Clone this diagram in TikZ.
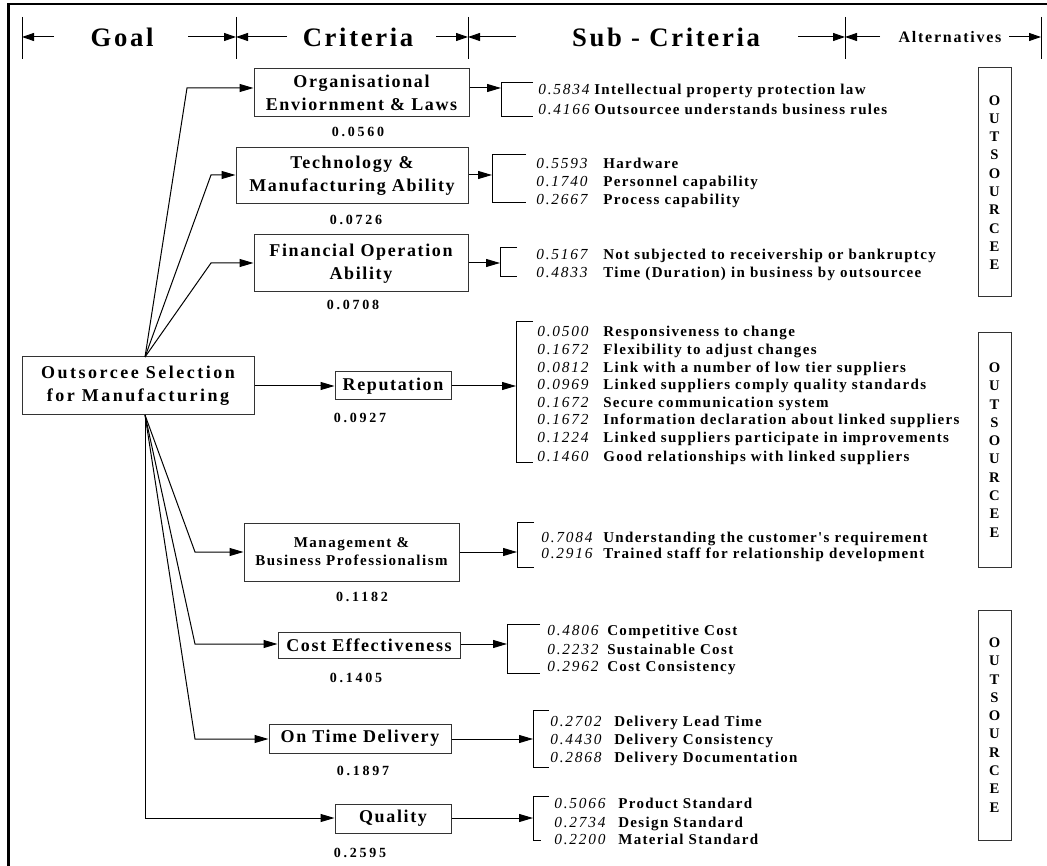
\documentclass[tikz,border=0pt]{standalone}
\usepackage{fontspec}
\setmainfont{Liberation Serif}
\newfontfamily\fHdr[LetterSpace=10]{Liberation Serif}
\newfontfamily\fAlt[LetterSpace=11]{Liberation Serif}
\newfontfamily\fCrit[LetterSpace=9]{Liberation Serif}
\newfontfamily\fGoal[LetterSpace=14]{Liberation Serif}
\newfontfamily\fMg[LetterSpace=10]{Liberation Serif}
\newfontfamily\fWt[LetterSpace=20]{Liberation Serif}
\newfontfamily\fNum[LetterSpace=12]{Liberation Serif}
\newfontfamily\fLab[LetterSpace=9]{Liberation Serif}
\usetikzlibrary{arrows.meta}
\tikzset{
  plain/.style={line width=0.75pt},
  conn/.style={line width=0.75pt,-{Triangle[length=10.5pt,width=6pt]}},
  harr/.style={line width=0.75pt,-{Triangle[length=9pt,width=6pt]}},
  hdr/.style={inner sep=0pt,font=\fHdr\bfseries\fontsize{20}{24}\selectfont},
  alt/.style={inner sep=0pt,font=\fAlt\bfseries\fontsize{12}{14}\selectfont},
  cbox/.style={draw=black!80,line width=0.75pt,inner sep=0pt,align=center,font=\fCrit\bfseries\fontsize{13.5}{17.25}\selectfont},
  gbox/.style={draw=black!80,line width=0.75pt,inner sep=0pt,align=center,font=\fGoal\bfseries\fontsize{13.5}{17.25}\selectfont},
  mbox/.style={draw=black!80,line width=0.75pt,inner sep=0pt,align=center,font=\fMg\bfseries\fontsize{11.25}{13.5}\selectfont},
  wt/.style={inner sep=0pt,font=\fWt\bfseries\fontsize{10.5}{12}\selectfont},
  snum/.style={inner sep=0pt,anchor=base west,font=\fNum\itshape\fontsize{11.5}{13}\selectfont},
  slab/.style={inner sep=0pt,anchor=base west,font=\fLab\bfseries\fontsize{11.25}{13}\selectfont},
  obox/.style={draw=black!80,line width=0.75pt,inner sep=0pt,minimum width=24.75pt,align=center,font=\bfseries\fontsize{11}{13.7}\selectfont}
}
\newcommand\srow[6]{%
  \node[snum] (#1n) at (#3,#2+5) {#5};
  \node[slab] (#1l) at (#4,#2+5) {#6};}
\begin{document}
\begin{tikzpicture}[x=0.75pt,y=-0.75pt]
\useasboundingbox (0,0) rectangle (1047,866);
% frame
\draw[line width=2.25pt] (8,866) -- (8,3);
\draw[line width=1.5pt] (7,4) -- (1047,4);
% header
\foreach \x in {22,236,468,845,1041} \draw[plain] (\x,17) -- (\x,59);
\node[hdr] (hGoal) at (122,37) {Goal};
\node[hdr] (hCrit) at (358,37) {Criteria};
\node[hdr] (hSub) at (666,37) {Sub - Criteria};
\node[alt] (hAlt) at (950,37) {Alternatives};
\coordinate (t1) at (22,37); \coordinate (t2) at (236,37); \coordinate (t3) at (468,37);
\coordinate (t4) at (845,37); \coordinate (t5) at (1041,37);
\draw[harr] (54,37) -- (t1);
\draw[harr] (188,37) -- (t2);
\draw[harr] (287,37) -- (t2);
\draw[harr] (436,37) -- (t3);
\draw[harr] (516,37) -- (t3);
\draw[harr] (798,37) -- (t4);
\draw[harr] (880,37) -- (t4);
\draw[harr] (1009,37) -- (t5);
% goal
\node[gbox,minimum width=174pt,minimum height=43.5pt] (goal) at (138,386) {Outsorcee Selection\\for Manufacturing};
% criteria
\node[cbox,minimum width=161.25pt,minimum height=36pt] (org) at (361.5,93) {Organisational\\Enviornment \& Laws};
\node[cbox,minimum width=174pt,minimum height=42pt] (tech) at (352,176) {Technology \&\\Manufacturing Ability};
\node[cbox,minimum width=160.5pt,minimum height=42.75pt] (fin) at (361,263.5) {Financial Operation\\Ability};
\node[cbox,minimum width=87pt,minimum height=21pt] (rep) at (393,386) {Reputation};
\node[mbox,minimum width=161.25pt,minimum height=43.5pt] (mgmt) at (351.5,552) {Management \&\\Business Professionalism};
\node[cbox,minimum width=136.5pt,minimum height=19.5pt] (cost) at (369,645) {Cost Effectiveness};
\node[cbox,minimum width=136.5pt,minimum height=21.75pt] (otd) at (360,738.5) {On Time Delivery};
\node[cbox,minimum width=87pt,minimum height=21.75pt] (qual) at (393,818.5) {Quality};
% weights
\node[wt] (w1) at (358,132) {0.0560};
\node[wt] (w2) at (356,220) {0.0726};
\node[wt] (w3) at (353,305) {0.0708};
\node[wt] (w4) at (360,418) {0.0927};
\node[wt] (w5) at (362,597) {0.1182};
\node[wt] (w6) at (356,678) {0.1405};
\node[wt] (w7) at (363,771) {0.1897};
\node[wt] (w8) at (360,853) {0.2595};
% goal -> criteria
\coordinate (gT) at (145,357); \coordinate (gB) at (145,415);
\coordinate (bo) at (187,88); \coordinate (bt) at (211,175); \coordinate (bf) at (211,263);
\coordinate (bm) at (195,552); \coordinate (bc) at (195,644); \coordinate (bd) at (195,739);
\coordinate (bq) at (145,818);
\draw[conn] (gT) -- (bo) -- (bo -| org.west);
\draw[conn] (gT) -- (bt) -- (bt -| tech.west);
\draw[conn] (gT) -- (bf) -- (bf -| fin.west);
\draw[conn] (goal.east |- rep.west) -- (rep.west);
\draw[conn] (gB) -- (bm) -- (bm -| mgmt.west);
\draw[conn] (gB) -- (bc) -- (bc -| cost.west);
\draw[conn] (gB) -- (bd) -- (bd -| otd.west);
\draw[conn] (gB) -- (bq) -- (bq -| qual.west);
% criteria -> brackets
\coordinate (pO) at (501,88); \coordinate (pT) at (492,175); \coordinate (pF) at (500,263);
\coordinate (pR) at (516,386); \coordinate (pM) at (517,552); \coordinate (pC) at (507,644);
\coordinate (pD) at (533,739); \coordinate (pQ) at (533,818);
\draw[conn] (org.east |- pO) -- (pO);
\draw[conn] (tech.east |- pT) -- (pT);
\draw[conn] (fin.east |- pF) -- (pF);
\draw[conn] (rep.east |- pR) -- (pR);
\draw[conn] (mgmt.east |- pM) -- (pM);
\draw[conn] (cost.east |- pC) -- (pC);
\draw[conn] (otd.east |- pD) -- (pD);
\draw[conn] (qual.east |- pQ) -- (pQ);
% brackets
\draw[plain] (533,83) -- (501,83) -- (501,117) -- (533,117);
\draw[plain] (526,155) -- (492,155) -- (492,203) -- (526,203);
\draw[plain] (517,248) -- (500,248) -- (500,277) -- (517,277);
\draw[plain] (533,322) -- (516,322) -- (516,463) -- (533,463);
\draw[plain] (534,522) -- (517,522) -- (517,567) -- (534,567);
\draw[plain] (540,624) -- (507,624) -- (507,673) -- (540,673);
\draw[plain] (549,710) -- (533,710) -- (533,767) -- (549,767);
\draw[plain] (549,796) -- (533,796) -- (533,840) -- (541,840);
% sub-criteria
\srow{o1}{90}{538}{594}{0.5834}{Intellectual property protection law}
\srow{o2}{110}{538}{594}{0.4166}{Outsourcee understands business rules}
\srow{t1s}{164}{536}{603}{0.5593}{Hardware}
\srow{t2s}{182}{536}{603}{0.1740}{Personnel capability}
\srow{t3s}{200}{536}{603}{0.2667}{Process capability}
\srow{f1}{255}{536}{603}{0.5167}{Not subjected to receivership or bankruptcy}
\srow{f2}{273}{536}{603}{0.4833}{Time (Duration) in business by outsourcee}
\srow{r1}{332}{537}{603}{0.0500}{Responsiveness to change}
\srow{r2}{350}{537}{603}{0.1672}{Flexibility to adjust changes}
\srow{r3}{368}{537}{603}{0.0812}{Link with a number of low tier suppliers}
\srow{r4}{385}{537}{603}{0.0969}{Linked suppliers comply quality standards}
\srow{r5}{403}{537}{603}{0.1672}{Secure communication system}
\srow{r6}{420}{537}{603}{0.1672}{Information declaration about linked suppliers}
\srow{r7}{438}{537}{603}{0.1224}{Linked suppliers participate in improvements}
\srow{r8}{457}{537}{603}{0.1460}{Good relationships with linked suppliers}
\srow{m1}{537}{541}{603}{0.7084}{Understanding the customer's requirement}
\srow{m2}{553}{541}{603}{0.2916}{Trained staff for relationship development}
\srow{c1}{630}{547}{607}{0.4806}{Competitive Cost}
\srow{c2}{649}{547}{607}{0.2232}{Sustainable Cost}
\srow{c3}{666}{547}{607}{0.2962}{Cost Consistency}
\srow{d1}{721}{550}{614}{0.2702}{Delivery Lead Time}
\srow{d2}{739}{550}{614}{0.4430}{Delivery Consistency}
\srow{d3}{757}{550}{614}{0.2868}{Delivery Documentation}
\srow{q1}{803}{554}{618}{0.5066}{Product Standard}
\srow{q2}{822}{554}{618}{0.2734}{Design Standard}
\srow{q3}{839}{554}{618}{0.2200}{Material Standard}
% alternatives
\node[obox,minimum height=171.75pt] (alt1) at (994.5,182.5) {O\\U\\T\\S\\O\\U\\R\\C\\E\\E};
\node[obox,minimum height=175.5pt] (alt2) at (994.5,450) {O\\U\\T\\S\\O\\U\\R\\C\\E\\E};
\node[obox,minimum height=172.5pt] (alt3) at (994.5,725) {O\\U\\T\\S\\O\\U\\R\\C\\E\\E};
\end{tikzpicture}
\end{document}
